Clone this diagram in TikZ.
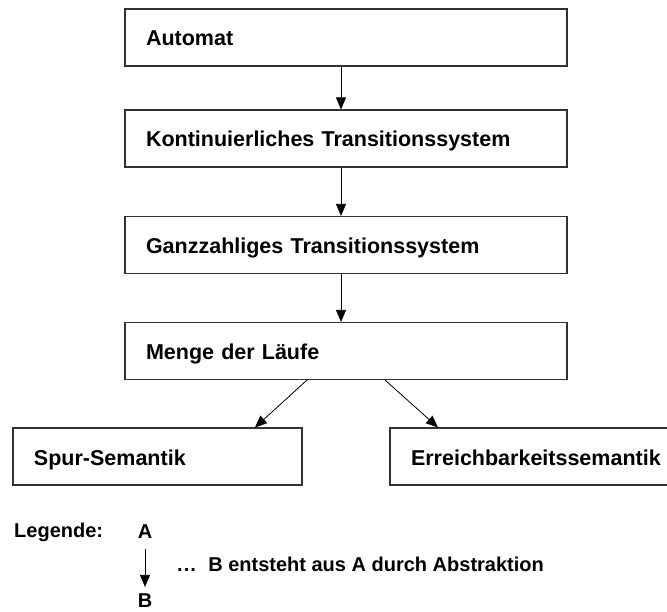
\documentclass[tikz,border=0pt]{standalone}
\usepackage{fontspec}
\setmainfont{Liberation Sans}
\usetikzlibrary{arrows.meta, positioning}
\tikzset{
    stufe/.style={draw=black!80, line width=1.1pt, fill=white, inner xsep=21pt, text width=400pt, text height=17pt, text depth=0pt, minimum height=57pt, align=left, font=\fontsize{21.5}{25}\selectfont\bfseries},
    kleinstufe/.style={stufe, text width=247pt},
    abstr/.style={-{Triangle[length=12pt, width=10pt]}, line width=0.8pt},
    legtext/.style={font=\fontsize{20}{23}\selectfont\bfseries, inner sep=0pt}
}

\begin{document}
\begin{tikzpicture}[x=1pt, y=-1pt]
    \useasboundingbox (0, 0) rectangle (667, 612);

    % Abstraktionsstufen
    \node[stufe] (automat) at (346, 37.5) {Automat};
    \node[stufe] (kontinuierlich) at (346, 138.5) {Kontinuierliches Transitionssystem};
    \node[stufe] (ganzzahlig) at (346, 245) {Ganzzahliges Transitionssystem};
    \node[stufe] (laeufe) at (346, 351) {Menge der L\"aufe};
    \node[kleinstufe] (spur) at (157.5, 456.5) {Spur-Semantik};
    \node[kleinstufe] (erreich) at (534.5, 456.5) {Erreichbarkeitssemantik};

    % Abstraktionen
    \draw[abstr] ([xshift=-5pt]automat.south) -- ([xshift=-5pt]kontinuierlich.north);
    \draw[abstr] ([xshift=-5pt]kontinuierlich.south) -- ([xshift=-5pt]ganzzahlig.north);
    \draw[abstr] ([xshift=-5pt]ganzzahlig.south) -- ([xshift=-5pt]laeufe.north);
    \draw[abstr] ([xshift=-39pt]laeufe.south) -- ([xshift=97.5pt]spur.north);
    \draw[abstr] ([xshift=39pt]laeufe.south) -- ([xshift=-96.5pt]erreich.north);

    % Legende
    \node[legtext, anchor=west] (legende) at (14, 532) {Legende:};
    \node[legtext] (lega) at (145, 532) {A};
    \node[legtext] (legb) at (145, 601) {B};
    \draw[abstr] ([yshift=-10pt]lega.south) -- ([yshift=7pt]legb.north);
    \node[legtext, anchor=base west] (punkte) at (177, 571) {.\kern1pt.\kern1pt.};
    \node[legtext, anchor=base west] (erklaerung) at ([xshift=12pt]punkte.base east) {B entsteht aus A durch Abstraktion};
\end{tikzpicture}
\end{document}
